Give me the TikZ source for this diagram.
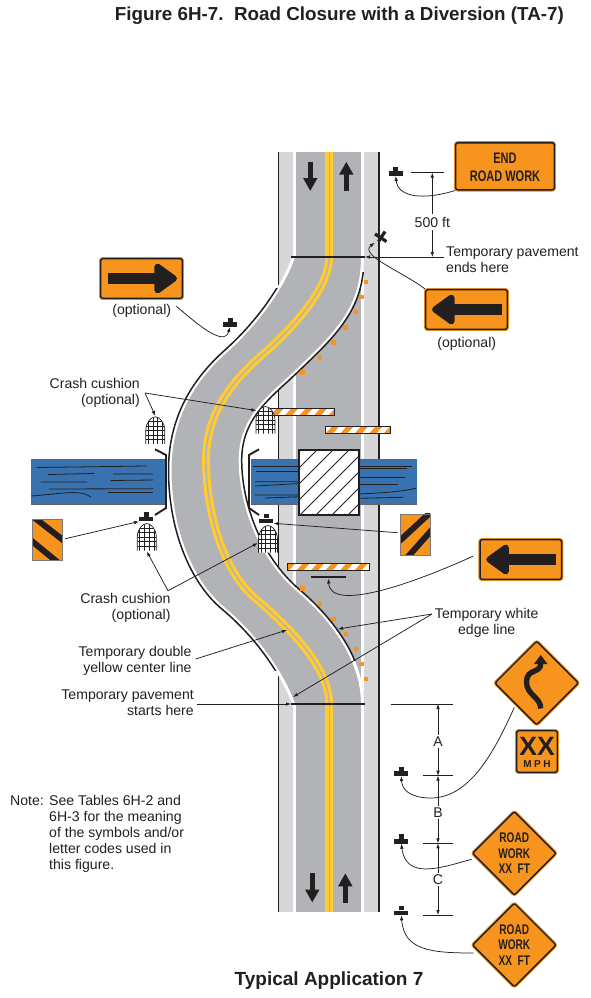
\documentclass[tikz,border=0pt]{standalone}
\usepackage{fontspec}
\setmainfont{Liberation Sans}
\newfontfamily\signfont[FakeStretch=0.72]{Liberation Sans}
\usetikzlibrary{positioning,arrows.meta,calc,shapes.geometric}
\definecolor{ink}{HTML}{231F20}
\definecolor{lanegray}{HTML}{B1B3B6}
\definecolor{shouldergray}{HTML}{D5D7D8}
\definecolor{signorange}{HTML}{F7941D}
\definecolor{rimorange}{HTML}{DE8A24}
\definecolor{centeryellow}{HTML}{FFCB31}
\definecolor{waterblue}{HTML}{3873B0}
\newcommand{\rightedge}{(364,257) .. controls (364,305) and (342,330) .. (303,367) .. controls (275,395) and (241.7,415) .. (241.7,460) .. controls (241.7,505) and (262,558) .. (300,590) .. controls (335,620) and (364,660) .. (364,704)}
\newcommand{\leftedge}{(292,704) .. controls (280,672) and (255,637) .. (223,610) .. controls (190,583) and (168.5,530) .. (168.5,470) .. controls (168.5,420) and (190,381) .. (225,350) .. controls (253,325) and (280,290) .. (292,257)}
\edef\pavement{\rightedge -- \leftedge -- cycle}
\newcommand{\postmark}[3]{% #1 nom, #2 x, #3 y
  \node[postbar] (#1) at (#2,#3) {};
  \fill[ink] ($(#1.north)+(-2.5,0)$) rectangle ($(#1.north)+(2.5,-4.5)$);}

\begin{document}
\begin{tikzpicture}[
    x=1pt, y=-1pt,
    every node/.style={font=\fontsize{14.1}{15.9}\selectfont, text=ink, align=center, inner sep=0pt},
    call/.style={draw=ink, line width=.75pt, -{Latex[length=5pt,width=3.6pt]}},
    dim/.style={draw=ink, line width=.75pt, -{Latex[length=5pt,width=3.6pt]}},
    tick/.style={draw=ink, line width=.75pt},
    rectsign/.style={draw=ink, fill=signorange, line width=1.4pt, rounded corners=2pt,
                     preaction={draw=rimorange, line width=3.4pt}},
    diasign/.style={diamond, draw=ink, fill=signorange, line width=1.4pt, rounded corners=2pt,
                    preaction={draw=rimorange, line width=3.4pt},
                    minimum width=84pt, minimum height=84pt},
    postbar/.style={fill=ink, minimum width=14pt, minimum height=4.6pt},
    signtext/.style={font=\signfont\bfseries\fontsize{14}{15}\selectfont},
    signarrow/.style={draw=ink, line width=11.4pt, -{Triangle[round,length=25pt,width=34pt]}},
    roadarrow/.style={draw=ink, line width=5.6pt, -{Triangle[length=13pt,width=13.5pt]}},
    barricade/.style={draw=ink, fill=white, line width=.8pt, minimum height=7.4pt,
      path picture={\begin{scope}[shift={(path picture bounding box.center)}, xscale=#1]
        \foreach \k in {-4,...,4}
          \fill[signorange] ({\k*14.5-4},5) -- ({\k*14.5+3},5) -- ({\k*14.5+12},-5) -- ({\k*14.5+5},-5) -- cycle;
      \end{scope}}},
    chevron/.style 2 args={fill=signorange, draw=ink!60, line width=.7pt, minimum width=30pt, minimum height=41.5pt,
      path picture={\begin{scope}[shift={(path picture bounding box.center)}]
        \draw[ink, line width=6pt] #1;
        \draw[ink, line width=6pt] #2;
      \end{scope}}},
    cushion/.style={minimum width=20pt, minimum height=28.5pt,
      path picture={\begin{scope}[shift={(path picture bounding box.center)}, yscale=#1]
        \begin{scope}
          \clip (-9.5,13.5) -- (-9.5,0) .. controls (-9.5,-8) and (-4,-13.5) .. (0,-13.5)
                .. controls (4,-13.5) and (9.5,-8) .. (9.5,0) -- (9.5,13.5) -- cycle;
          \fill[white] (-10,-14) rectangle (10,14);
          \foreach \g in {-7.2,-2.4,2.4,7.2} \draw[ink, line width=.5pt] (\g,-14) -- (\g,14);
          \foreach \g in {-9,-4.5,0,4.5,9} \draw[ink, line width=.5pt] (-10,\g) -- (10,\g);
        \end{scope}
        \draw[ink, line width=.7pt] (-9.5,13.5) -- (-9.5,0) .. controls (-9.5,-8) and (-4,-13.5) .. (0,-13.5)
                .. controls (4,-13.5) and (9.5,-8) .. (9.5,0) -- (9.5,13.5);
      \end{scope}}},
    wave/.style={draw=ink, line width=.8pt}
  ]
  \useasboundingbox (0,0) rectangle (590,998);

  % ---- titres ----------------------------------------------------------
  \node[font=\bfseries\fontsize{18.8}{20}\selectfont, anchor=east] (figtitle) at (564,15.5) {Figure 6H-7.\ \ Road Closure with a Diversion (TA-7)};
  \node[font=\bfseries\fontsize{19}{20}\selectfont] (apptitle) at (329,981) {Typical Application 7};

  % ---- route d'origine --------------------------------------------------
  \fill[shouldergray] (278,152) rectangle (293,912);
  \fill[lanegray] (296,152) rectangle (361,912);
  \fill[shouldergray] (364,152) rectangle (379,912);
  \draw[ink, line width=1.2pt] (278.3,152) -- (278.3,912);
  \draw[ink, line width=1.2pt] (379,152) -- (379,912);
  \foreach \ya/\yb in {152/258, 703/912} {
    \draw[centeryellow, line width=7.8pt] (329.2,\ya) -- (329.2,\yb);
    \draw[lanegray, line width=1.4pt] (329.2,\ya) -- (329.2,\yb);
  }
  \draw[roadarrow] (310.3,161.7) -- (310.3,191);
  \draw[roadarrow] (346.3,191) -- (346.3,161.7);
  \draw[roadarrow] (312.3,873.3) -- (312.3,902.5);
  \draw[roadarrow] (345.3,902.5) -- (345.3,873.3);

  % ---- riviere et pont ----------------------------------------------------
  \fill[waterblue] (31,460) rectangle (165,504);
  \fill[waterblue] (250.7,460) rectangle (417,504);
  \draw[ink!70, line width=.9pt] (31,459.6) -- (165,459.6) (31,504) -- (165,504);
  \draw[ink!70, line width=.9pt] (250.7,459.6) -- (417,459.6) (250.7,504) -- (417,504);
  \draw[wave] (37,467.5) -- (147,466);
  \draw[wave] (48,474.5) -- (94,473.5) (113,474) -- (153,474);
  \draw[wave] (110.5,480.5) -- (153,480) (40.5,482) -- (87,482);
  \draw[wave] (49,489) -- (153,488.7) (108,492.5) -- (153,492.5);
  \draw[wave] (31,496) .. controls (60,494) and (80,489) .. (91,497);
  \draw[wave] (253,466) -- (300,466) (256,471) -- (300,471);
  \draw[wave] (255,481.7) -- (300,481.7) (255,486) -- (300,483.5);
  \draw[wave] (255,495) -- (300,495) (265,498) -- (300,496.7);
  \draw[wave] (358,466) -- (411.7,466) (358,468.3) -- (406.7,468.3);
  \draw[wave] (358,477.3) -- (405,477.3) (358,484) -- (398,484);
  \draw[wave] (358,494) .. controls (380,493) and (400,492) .. (416,488.3);
  \draw[wave] (358,498.3) -- (403.7,497.3);
  \node[draw=ink, fill=white, line width=1.3pt, minimum width=58.6pt, minimum height=64pt] (bridge) at (329,482.5) {};
  \begin{scope}
    \clip (bridge.north west) rectangle (bridge.south east);
    \foreach \d in {-60,-44,...,70}
      \draw[ink, line width=.9pt] (329+\d-40,522) -- (329+\d+40,442);
  \end{scope}
  \draw[ink, line width=1.3pt] (bridge.north west) rectangle (bridge.south east);

  % ---- chaussee provisoire ------------------------------------------------
  \fill[lanegray] \pavement;
  \begin{scope}
    \clip \pavement;
    \draw[white, line width=6pt] \rightedge;
    \draw[white, line width=6pt] \leftedge;
  \end{scope}
  \draw[centeryellow, line width=3.2pt, double=lanegray, double distance=1.4pt]
    (329.2,257) .. controls (329.2,285) and (300,322) .. (262,355) .. controls (230,383) and (206,415) .. (206,460)
    .. controls (206,510) and (222,570) .. (255,598) .. controls (285,624) and (329.2,665) .. (329.2,704);
  \begin{scope}
    \clip (150,288) rectangle (300,670);
    \draw[ink, line width=1.5pt] \leftedge;
  \end{scope}
  \begin{scope}
    \clip (230,272) rectangle (380,660);
    \draw[ink, line width=1.5pt] \rightedge;
  \end{scope}
  \coordinate (paveendL) at (291,257);
  \coordinate (paveendR) at (365,257);
  \coordinate (pavestartL) at (291,704);
  \coordinate (pavestartR) at (365,704);
  \draw[ink, line width=2.2pt] (paveendL) -- (paveendR);
  \draw[ink, line width=2.2pt] (pavestartL) -- (pavestartR);
  \foreach \px/\py in {366/282, 361.3/297, 355.7/312, 345.3/327.3, 333.3/342.3, 320/357.3, 302.3/372.3,
                       302.3/588.3, 320/603.3, 333.3/618.7, 345.7/633.7, 355.7/648.7, 361.3/664, 366/679}
    \fill[signorange] (\px-2.2,\py-2.2) rectangle (\px+2.2,\py+2.2);

  % ---- glissieres, barrieres et amortisseurs ------------------------------
  \draw[ink, line width=1.9pt] (155,449.3) -- (166,455) -- (166,508) -- (155,515);
  \draw[ink, line width=1.9pt] (259,449.3) -- (249,455) -- (249,508) -- (259,515);
  \node[barricade=-1, minimum width=64pt] (bar1) at (302,412) {};
  \node[barricade=-1, minimum width=65pt] (bar2) at (357.5,429.8) {};
  \node[barricade=1, minimum width=82pt] (bar3) at (328,567) {};
  \node[cushion=1] (cc1) at (155.3,430.3) {};
  \node[cushion=1] (cc2) at (265.5,420) {};
  \node[cushion=-1] (cc3) at (146.8,537) {};
  \node[cushion=-1] (cc4) at (268,539) {};
  \node[fill=ink, minimum width=35pt, minimum height=2.6pt] (base3) at (328.5,577) {};

  % ---- panneaux -----------------------------------------------------------
  \node[rectsign, minimum width=98.5pt, minimum height=47pt, signtext, font=\signfont\bfseries\fontsize{15.3}{18}\selectfont, text depth=0pt] (endsign) at (505,166.3) {};
  \node[signtext, font=\signfont\bfseries\fontsize{15.3}{18}\selectfont] (endtext) at (505,167.3) {END\\ROAD WORK};
  \node[rectsign, minimum width=81.5pt, minimum height=39.5pt] (arrowR) at (141.5,278.5) {};
  \node[rectsign, minimum width=81.5pt, minimum height=39.5pt] (arrowL) at (466.5,309.5) {};
  \node[rectsign, minimum width=81.5pt, minimum height=39.5pt] (arrowB) at (520.8,559.5) {};
  \draw[signarrow] ($(arrowR.west)+(8,0)$) -- ($(arrowR.east)+(-6,0)$);
  \draw[signarrow] ($(arrowL.east)+(-6,0)$) -- ($(arrowL.west)+(7,0)$);
  \draw[signarrow] ($(arrowB.east)+(-6,0)$) -- ($(arrowB.west)+(7,0)$);
  \node[chevron={(-25,-31.3) -- (25,7.8)}{(-25,-6.2) -- (25,34.8)}] (chevL) at (47.7,539.8) {};
  \node[chevron={(25,-31) -- (-25,15)}{(25,-14) -- (-15,31)}] (chevR) at (415,534.7) {};
  \node[diasign] (windsign) at (536.7,683) {};
  \draw[ink, line width=5.4pt, -{Triangle[length=9pt,width=13pt]}] (540.7,708.5) .. controls (540.7,697) and (526.5,695) .. (526.5,682) .. controls (526.5,668) and (540.7,674) .. (540.7,655);
  \node[rectsign, minimum width=40.5pt, minimum height=41.5pt] (mphsign) at (537,751.5) {};
  \node[font=\bfseries\fontsize{26.5}{28}\selectfont] (mphxx) at (537,746) {XX};
  \node[font=\bfseries\fontsize{10}{11}\selectfont] (mphunit) at (537,764.3) {M\kern2.5pt P\kern2.5pt H};
  \node[diasign, signtext] (rw1) at (514.3,853.3) {ROAD\\[0.6pt]WORK\\[0.6pt]XX\ \ FT};
  \node[diasign, signtext] (rw2) at (514.3,945) {ROAD\\[0.6pt]WORK\\[0.6pt]XX\ \ FT};

  % ---- supports ------------------------------------------------------------
  \postmark{pend}{395.7}{173.5}
  \postmark{popt}{230}{324.5}
  \postmark{pcc1}{146.2}{519}
  \postmark{pcc2}{266.3}{520.8}
  \postmark{pa}{401.3}{773.5}
  \postmark{pb}{401.3}{841.2}
  \postmark{pc}{401.3}{912.8}
  \node[minimum width=11pt, minimum height=11pt] (xpost) at (380.5,237) {};
  \draw[ink, line width=3.2pt] ($(xpost)+(-5.5,-3)$) -- ($(xpost)+(6,4.5)$);
  \draw[ink, line width=3.2pt] ($(xpost)+(-2,4.5)$) -- ($(xpost)+(4.5,-5.5)$);

  % ---- cotes -----------------------------------------------------------------
  \coordinate (t500) at (411,172.7);
  \draw[tick] (t500) -- +(33,0);
  \node[inner sep=3pt] (d500) at (432.3,222) {500 ft};
  \draw[dim] (d500.north) -- (d500.north |- t500);
  \draw[dim] (d500.south) -- (d500.south |- paveendR);
  \coordinate (ta) at (390.7,704);
  \coordinate (tb) at (423,775.7);
  \coordinate (tc) at (423,843.3);
  \coordinate (td) at (423,915);
  \draw[tick] (ta) -- +(62,0);
  \foreach \t in {tb,tc,td} \draw[tick] (\t) -- +(30,0);
  \node[inner sep=1.5pt] (dima) at (438,741.5) {A};
  \node[inner sep=1.5pt] (dimb) at (438,812.7) {B};
  \node[inner sep=1.5pt] (dimc) at (438,879.5) {C};
  \draw[dim] (dima.north) -- (dima.north |- ta);
  \draw[dim] (dima.south) -- (dima.south |- tb);
  \draw[dim] (dimb.north) -- (dimb.north |- tb);
  \draw[dim] (dimb.south) -- (dimb.south |- tc);
  \draw[dim] (dimc.north) -- (dimc.north |- tc);
  \draw[dim] (dimc.south) -- (dimc.south |- td);

  % ---- textes ---------------------------------------------------------------
  \node[align=left, anchor=west] (lblend) at (446,259.5) {Temporary pavement\\ends here};
  \node (lblopt2) at (466.7,344) {(optional)};
  \node (lblopt1) at (141.7,311) {(optional)};
  \node[align=right, anchor=east] (lblcc1) at (140,392.5) {Crash cushion\\(optional)};
  \node[align=right, anchor=east] (lblcc2) at (170.7,608) {Crash cushion\\(optional)};
  \node (lblwhite) at (486.7,623) {Temporary white\\edge line};
  \node[align=right, anchor=east] (lblyellow) at (191.7,661) {Temporary double\\yellow center line};
  \node[align=right, anchor=east] (lblstart) at (194,703) {Temporary pavement\\starts here};
  \node[anchor=west] (lblnote) at (10,801) {Note:};
  \node[align=left, anchor=north west] (notetext) at (49,795) {See Tables 6H-2 and\\6H-3 for the meaning\\of the symbols and/or\\letter codes used in\\this figure.};

  % ---- renvois ---------------------------------------------------------------
  \draw[call] (endsign.south west) .. controls (425,200) and (398,198) .. (pend.south);
  \draw[call] (lblend.west |- paveendR) ++(-2,0) -- (paveendR);
  \draw[call] (arrowL.north west) .. controls (405,273) and (358,255) .. (xpost.south west);
  \draw[call] (lblopt1.north east) ++(5,2) .. controls (195,322) and (224,348) .. (popt.south);
  \coordinate (forkcc1) at (145,393);
  \draw[call] (forkcc1) -- (cc1.north);
  \draw[call] (forkcc1) -- ($(cc2.north west)+(1,5)$);
  \coordinate (forkcc2) at (168,590.7);
  \draw[call] (forkcc2) -- (cc3.south);
  \draw[call] (forkcc2) -- ($(cc4.west)+(0,4)$);
  \draw[call] ($(chevL.east)+(2,-1)$) -- (pcc1.south west);
  \draw[call] ($(chevR.west)+(-2,-2)$) -- (pcc2.south east);
  \draw[call] ($(arrowB.west)+(-6,-3.5)$) .. controls (410,585) and (330,612) .. (base3.south);
  \coordinate (forkwhite) at (432,614);
  \draw[call] (forkwhite) -- (338,629);
  \draw[call] (forkwhite) -- (293,697);
  \draw[call] (lblyellow.east) ++(4,-2) -- (287,630);
  \draw[call] (lblstart.east |- pavestartL) ++(3,0) -- (pavestartL);
  \draw[call] (windsign.south west) ++(-1,3) .. controls (495,750) and (470,800) .. (428,798) .. controls (410,797) and (402,790) .. (pa.south);
  \draw[call] (rw1.west) ++(0,6) .. controls (440,868) and (406,880) .. (pb.south);
  \draw[call] (rw2.west) ++(2,8) .. controls (430,953) and (404,950) .. (pc.south);

\end{tikzpicture}
\end{document}
